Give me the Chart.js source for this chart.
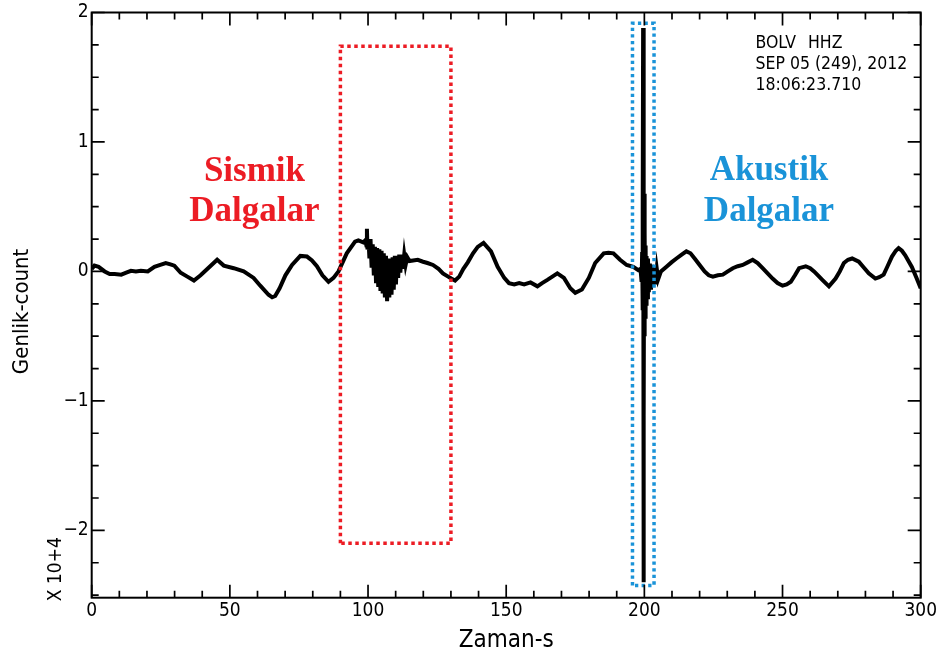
<!DOCTYPE html>
<html><head><meta charset="utf-8">
<script src="https://cdn.jsdelivr.net/npm/chart.js@4.4.1/dist/chart.umd.min.js"></script>
<style>html,body{margin:0;padding:0;background:#fff;overflow:hidden}#wrap{width:941px;height:660px;position:relative}</style>
</head><body><div id="wrap"><canvas id="c" width="941" height="660"></canvas></div>
<script>
// ---- data (time in s, amplitude in counts x 10^4) ----
const timeS = [
0,1,2.5,4.7,6.5,8.3,10.7,12.5,14.2,16,17.8,20.3,22.7,24.8,26.8,28.5,29.9,32.2,34.6,37,39.4,42.4,45.4,47.8,51.4,55,58.6,61,64,65.3,66.4,68,70.1,72.5,75.5,77.9,79.7,81.5,83.5,85.7,87.5,89.3,92.3,95.3,96.5,98.3,
99.0,99.4,99.6,99.8,100.2,100.5,100.9,101.3,101.7,102.1,102.5,102.9,103.3,103.7,104.1,104.5,104.9,105.3,105.7,106.1,106.5,106.9,107.3,107.7,108.1,108.5,108.9,109.3,109.7,110.1,110.5,110.9,111.3,111.7,112.1,112.6,113.1,113.6,114.2,115,
116.3,118,119.9,121.5,123.5,125.5,127.1,129,130.1,131.5,133,134.5,136.1,138,139.7,141.8,144.5,146.9,149.3,151,152.9,154.7,156.5,158.8,161.3,163,164.9,166.7,168.5,170.9,173.2,175,177.4,179.9,182.2,185.3,187,188.8,191.2,193.6,196,197.8,198.6,
199.0,199.2,199.35,199.45,199.55,199.65,199.75,199.85,199.95,200.05,200.15,200.3,200.45,200.6,200.8,201.0,201.3,201.6,202.0,202.4,202.8,203.2,203.6,204.0,204.5,205,
206,208,209.8,211.6,213.5,215.2,216.7,218.2,220,221.8,223.3,224.8,226.6,228.4,230.2,232,233.8,235.6,237.4,239.2,241,242.8,244.6,246.4,248.2,250,251.5,253,254.5,256,258.4,260,261.4,263,264.4,266.8,269.2,270.7,272.2,273.7,275.2,277.6,279.4,281.2,283.6,285,286.6,288,289.6,291,292,293.2,294.4,296.8,298.5,300
];
const amplitude = [
0.02,0.045,0.035,0.0,-0.02,-0.02,-0.025,-0.01,0.005,0.0,0.005,0.0,0.035,0.05,0.065,0.055,0.045,-0.01,-0.04,-0.07,-0.03,0.03,0.09,0.045,0.025,0.0,-0.05,-0.11,-0.18,-0.2,-0.19,-0.13,-0.03,0.05,0.12,0.115,0.085,0.04,-0.03,-0.08,-0.05,0.0,0.14,0.23,0.24,0.225,
0.24,0.2,0.33,0.17,0.24,0.1,0.25,0.03,0.21,-0.03,0.19,-0.09,0.18,-0.12,0.17,-0.15,0.16,-0.17,0.14,-0.2,0.12,-0.23,0.1,-0.2,0.1,-0.18,0.11,-0.14,0.12,-0.1,0.12,-0.05,0.13,-0.01,0.13,0.02,0.13,0.05,0.11,0.08,
0.085,0.09,0.075,0.065,0.05,0.02,-0.015,-0.04,-0.055,-0.07,-0.04,0.02,0.07,0.14,0.19,0.22,0.155,0.035,-0.05,-0.09,-0.1,-0.09,-0.1,-0.085,-0.115,-0.09,-0.065,-0.04,-0.015,-0.05,-0.13,-0.165,-0.14,-0.05,0.065,0.14,0.145,0.14,0.09,0.05,0.035,0.01,0.02,
-0.08,0.15,-0.3,0.45,1.88,-2.4,1.38,-1.15,0.6,-0.5,0.3,-0.35,0.2,-0.25,0.12,-0.2,0.1,-0.16,0.06,-0.14,0.05,-0.12,0.03,-0.1,0.02,-0.06,
0.0,0.037,0.07,0.1,0.13,0.155,0.14,0.1,0.05,0.0,-0.03,-0.04,-0.03,-0.025,0.0,0.025,0.04,0.05,0.07,0.09,0.065,0.025,-0.015,-0.055,-0.09,-0.11,-0.1,-0.08,-0.03,0.025,0.04,0.025,0.0,-0.035,-0.065,-0.115,-0.055,0.0,0.065,0.09,0.1,0.075,0.03,-0.015,-0.055,-0.045,-0.025,0.04,0.115,0.16,0.18,0.16,0.125,0.035,-0.05,-0.13
];
const xTickLabels = [0, 50, 100, 150, 200, 250, 300];
const yTickLabels = [-2, -1, 0, 1, 2];
// marked windows (time s, amplitude x10^4)
const sismikBoxT = [90, 90, 130, 130, 90];
const sismikBoxA = [-2.1, 1.74, 1.74, -2.1, -2.1];
const akustikBoxT = [195.7, 195.7, 203.5, 203.5, 195.7];
const akustikBoxA = [-2.425, 1.917, 1.917, -2.425, -2.425];
const stationText = ["BOLV", "HHZ", "SEP 05 (249), 2012", "18:06:23.710"];

const NARROW = '"Liberation Sans Narrow","DejaVu Sans Condensed","Arial Narrow",sans-serif';
const SERIF = '"Liberation Serif","DejaVu Serif","Times New Roman",serif';
const RED = '#ec1c24', BLUE = '#1a93d8';

const toPts = (xs, ys) => xs.map((v, i) => ({x: v, y: ys[i]}));

const decor = {
  id: 'decor',
  afterDraw(chart) {
    const {ctx, chartArea: a, scales: {x, y}} = chart;
    ctx.save();
    ctx.strokeStyle = '#000';
    ctx.lineWidth = 2;
    ctx.strokeRect(a.left, a.top, a.right - a.left, a.bottom - a.top);
    ctx.lineWidth = 1.7;
    ctx.beginPath();
    for (let v = 0; v <= 300; v += 10) {
      const px = x.getPixelForValue(v);
      const L = v % 50 === 0 ? 13 : 7;
      ctx.moveTo(px, a.bottom); ctx.lineTo(px, a.bottom - L);
      ctx.moveTo(px, a.top); ctx.lineTo(px, a.top + L);
    }
    for (let k = -10; k <= 8; k++) {
      const py = y.getPixelForValue(k * 0.25);
      const L = k % 4 === 0 ? 13 : 7;
      ctx.moveTo(a.left, py); ctx.lineTo(a.left + L, py);
      ctx.moveTo(a.right, py); ctx.lineTo(a.right - L, py);
    }
    ctx.stroke();

    // wave labels
    ctx.textAlign = 'center';
    ctx.textBaseline = 'alphabetic';
    ctx.font = 'bold 35px ' + SERIF;
    ctx.fillStyle = RED;
    ctx.fillText('Sismik', x.getPixelForValue(58.9), y.getPixelForValue(0.695));
    ctx.fillText('Dalgalar', x.getPixelForValue(58.9), y.getPixelForValue(0.39));
    ctx.fillStyle = BLUE;
    ctx.fillText('Akustik', x.getPixelForValue(245.1), y.getPixelForValue(0.707));
    ctx.fillText('Dalgalar', x.getPixelForValue(245.1), y.getPixelForValue(0.39));

    // station header
    ctx.fillStyle = '#000';
    ctx.textAlign = 'left';
    ctx.font = '17.5px ' + NARROW;
    ctx.fillText(stationText[0], x.getPixelForValue(240.2), y.getPixelForValue(1.722));
    ctx.fillText(stationText[1], x.getPixelForValue(259.2), y.getPixelForValue(1.722));
    ctx.fillText(stationText[2], x.getPixelForValue(240.2), y.getPixelForValue(1.567));
    ctx.fillText(stationText[3], x.getPixelForValue(240.2), y.getPixelForValue(1.4));

    // exponent
    ctx.save();
    ctx.translate(a.left - 36, y.getPixelForValue(-2.3));
    ctx.rotate(-Math.PI / 2);
    ctx.textAlign = 'center';
    ctx.textBaseline = 'middle';
    ctx.font = '19px ' + NARROW;
    ctx.fillText('X 10+4', 0, 0);
    ctx.restore();
    ctx.restore();
  }
};

new Chart(document.getElementById('c'), {
  type: 'line',
  data: {
    datasets: [
      {data: toPts(sismikBoxT, sismikBoxA), borderColor: RED, borderWidth: 3.5, borderDash: [3.5, 3.5], borderCapStyle: 'butt', pointRadius: 0, tension: 0, fill: false},
      {data: toPts(akustikBoxT, akustikBoxA), borderColor: BLUE, borderWidth: 3.5, borderDash: [3.3, 3.3], borderCapStyle: 'butt', pointRadius: 0, tension: 0, fill: false},
      {data: toPts(timeS, amplitude), borderColor: '#000', borderWidth: 4, pointRadius: 0, tension: 0,
       borderJoinStyle: 'miter', borderCapStyle: 'butt', fill: false}
    ]
  },
  options: {
    responsive: false,
    animation: false,
    events: [],
    layout: {padding: {left: 0, top: 12, right: 15.3, bottom: 0}},
    plugins: {legend: {display: false}, tooltip: {enabled: false}},
    scales: {
      x: {
        type: 'linear', min: 0, max: 300, position: 'bottom',
        afterFit: s => { s.height = 62.3; },
        afterBuildTicks: s => { s.ticks = xTickLabels.map(v => ({value: v})); },
        grid: {display: false, drawTicks: false},
        border: {display: false},
        ticks: {color: '#000', padding: 4, maxRotation: 0, autoSkip: false, font: {family: NARROW, size: 19, lineHeight: 1}},
        title: {display: true, text: 'Zaman-s', color: '#000', font: {family: NARROW, size: 24, lineHeight: 1.2}, padding: {top: 0, bottom: 5}}
      },
      y: {
        type: 'linear', min: -2.52, max: 2, position: 'left',
        afterFit: s => { s.width = 91.7; },
        afterBuildTicks: s => { s.ticks = yTickLabels.map(v => ({value: v})); },
        grid: {display: false, drawTicks: false},
        border: {display: false},
        ticks: {color: '#000', padding: 3, autoSkip: false, font: {family: NARROW, size: 19, lineHeight: 1},
                callback: v => (v < 0 ? '\u2212' + Math.abs(v) : String(v))},
        title: {display: true, text: 'Genlik-count  ', color: '#000', font: {family: NARROW, size: 22, lineHeight: 1.2}, padding: {top: 9, bottom: 0}}
      }
    }
  },
  plugins: [decor]
});
</script>
</body></html>
